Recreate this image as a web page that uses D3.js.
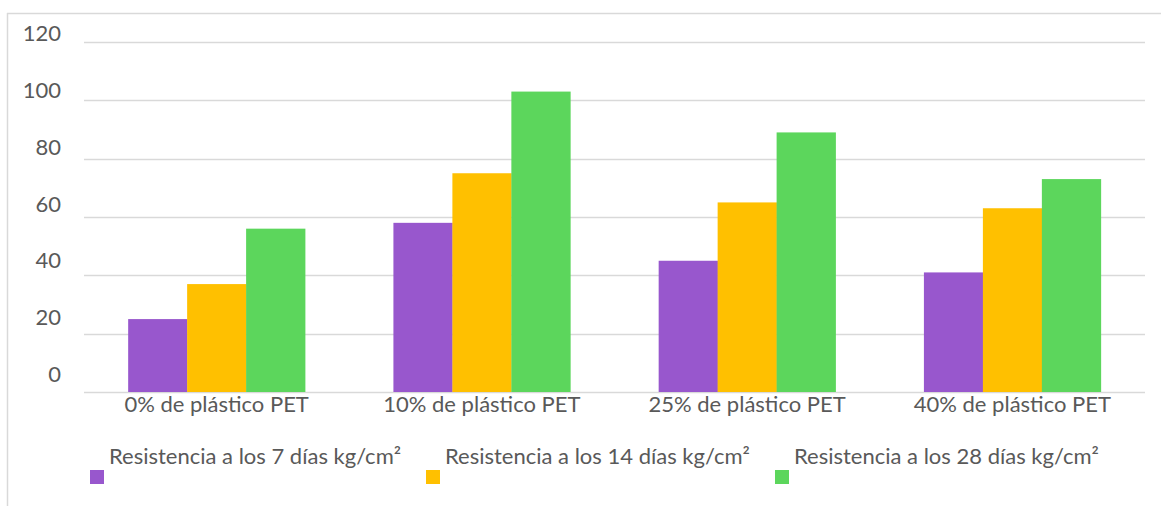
<!DOCTYPE html>
<html>
<head>
<meta charset="utf-8">
<script src="https://cdn.jsdelivr.net/npm/d3@7"></script>
<style>
  html, body { margin: 0; padding: 0; background: #fff; }
  svg { display: block; }
  text { font-family: Lato, "Open Sans", sans-serif; fill: #595959; }
</style>
</head>
<body>
<svg id="chart" width="1161" height="507"></svg>
<script>
// Compressive strength of concrete with PET plastic replacement
const categories = ["0% de plástico PET", "10% de plástico PET", "25% de plástico PET", "40% de plástico PET"];
const seriesNames = [
  "Resistencia a los 7 días kg/cm²",
  "Resistencia a los 14 días kg/cm²",
  "Resistencia a los 28 días kg/cm²"
];
const dias7 = [25, 58, 45, 41];
const dias14 = [37, 75, 65, 63];
const dias28 = [56, 103, 89, 73];
const yTicks = [0, 20, 40, 60, 80, 100, 120];
const colors = ["#9857CD", "#FFC000", "#5CD65C"];

const series = [dias7, dias14, dias28];

const svg = d3.select("#chart");
const W = 1161, H = 507;
const plot = { left: 84, right: 1145, top: 42, bottom: 392 };

// outer frame (left and top edges visible)
svg.append("line").attr("x1", 7.5).attr("x2", 7.5).attr("y1", 13).attr("y2", 506)
  .attr("stroke", "#D9D9D9").attr("stroke-width", 1.5);
svg.append("line").attr("x1", 7).attr("x2", W).attr("y1", 13.5).attr("y2", 13.5)
  .attr("stroke", "#D9D9D9").attr("stroke-width", 1.5);

const y = d3.scaleLinear().domain([0, 120]).range([plot.bottom, plot.top]);
const x0 = d3.scaleBand().domain(categories).range([plot.left, plot.right]).paddingInner(0.333).paddingOuter(0.1665);
const x1 = d3.scaleBand().domain(d3.range(series.length)).range([0, x0.bandwidth()]);

// gridlines
svg.append("g").selectAll("line").data(yTicks).join("line")
  .attr("x1", plot.left).attr("x2", plot.right)
  .attr("y1", d => Math.round(y(d)) + 0.5).attr("y2", d => Math.round(y(d)) + 0.5)
  .attr("stroke", "#D9D9D9").attr("stroke-width", 1.5);

// bars
const groups = svg.append("g").selectAll("g").data(categories).join("g")
  .attr("transform", c => `translate(${x0(c)},0)`);
groups.selectAll("rect")
  .data((c, i) => series.map((s, k) => ({ k, v: s[i] })))
  .join("rect")
  .attr("x", d => x1(d.k))
  .attr("width", x1.bandwidth() + 0.3)
  .attr("y", d => y(d.v))
  .attr("height", d => y(0) - y(d.v))
  .attr("fill", d => colors[d.k]);

// y tick labels (sit slightly above their gridlines)
const yLab = d3.scaleLinear().domain([0, 120]).range([382, 41]);
svg.append("g").selectAll("text").data(yTicks).join("text")
  .attr("x", 61).attr("y", d => yLab(d))
  .attr("text-anchor", "end")
  .style("font-size", "22px")
  .text(d => d);

// category labels
svg.append("g").selectAll("text").data(categories).join("text")
  .attr("x", c => x0(c) + x0.bandwidth() / 2).attr("y", 412)
  .attr("text-anchor", "middle")
  .style("font-size", "22px")
  .text(c => c);

// legend
const legendX = [90, 426, 775];
const leg = svg.append("g").selectAll("g").data(seriesNames).join("g")
  .attr("transform", (d, i) => `translate(${legendX[i]},0)`);
leg.append("rect").attr("x", 0).attr("y", 470).attr("width", 14).attr("height", 14)
  .attr("fill", (d, i) => colors[i]);
leg.append("text").attr("x", 19).attr("y", 464)
  .style("font-size", "22px")
  .text(d => d);
</script>
</body>
</html>
